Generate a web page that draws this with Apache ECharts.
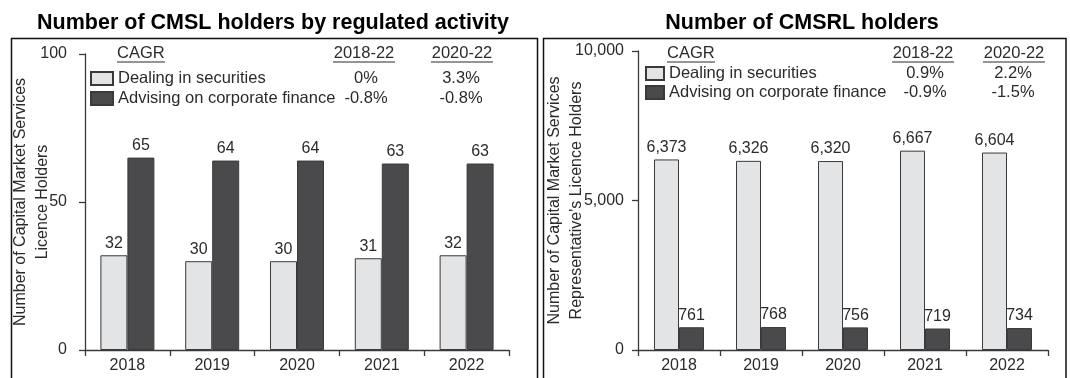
<!DOCTYPE html>
<html>
<head>
<meta charset="utf-8">
<script src="https://cdn.jsdelivr.net/npm/echarts@6/dist/echarts.min.js"></script>
<style>
  html, body { margin: 0; padding: 0; background: #fff; }
  #chart { width: 1070px; height: 378px; }
</style>
</head>
<body>
<div id="chart"></div>
<script>
// Years shown on both panels
const years = ['2018', '2019', '2020', '2021', '2022'];
const seriesNames = ['Dealing in securities', 'Advising on corporate finance'];

// CMSL holders by regulated activity
const cmslDealing = [32, 30, 30, 31, 32];
const cmslAdvising = [65, 64, 64, 63, 63];

// CMSRL holders
const cmsrlDealing = [6373, 6326, 6320, 6667, 6604];
const cmsrlAdvising = [761, 768, 756, 719, 734];

// CAGR table
const cagrHeader = 'CAGR';
const cagrPeriods = ['2018-22', '2020-22'];
const cmslCagr = [['0%', '3.3%'], ['-0.8%', '-0.8%']];
const cmsrlCagr = [['0.9%', '2.2%'], ['-0.9%', '-1.5%']];

// Axis ranges / tick steps
const cmslMax = 100, cmslStep = 50;
const cmsrlMax = 10000, cmsrlStep = 5000;

const FONT = "'Liberation Sans', Arial, sans-serif";
const TXT = '#2b2b2b';
const LIGHT = '#e3e4e6';
const DARK = '#4a4a4c';
const EDGE = '#3a3a3a';
const FS = 16;      // axis + bar labels
const FS_T = 16.5;  // legend + CAGR table

const fmt = v => Number(v).toLocaleString('en-US');

function axisX(gridIndex) {
  return {
    type: 'category', gridIndex, data: years,
    axisLine: { lineStyle: { color: EDGE, width: 1.3 } },
    axisTick: { show: true, length: 6, lineStyle: { color: EDGE, width: 1.3 } },
    axisLabel: { color: TXT, fontSize: FS, fontFamily: FONT, margin: 8 }
  };
}
function axisY(gridIndex, max, step, name, gap, labelMargin) {
  return {
    type: 'value', gridIndex, min: 0, max, interval: step,
    name, nameLocation: 'middle', nameGap: gap, nameMoveOverlap: false,
    nameTextStyle: { color: TXT, fontSize: FS, fontFamily: FONT, lineHeight: 22 },
    axisLine: { show: true, lineStyle: { color: EDGE, width: 1.3 } },
    axisTick: { show: true, length: 6, lineStyle: { color: EDGE, width: 1.3 } },
    axisLabel: { color: TXT, fontSize: FS, fontFamily: FONT, margin: labelMargin, formatter: v => fmt(v) },
    splitLine: { show: false }
  };
}
function bars(name, data, color, xi, width) {
  return {
    type: 'bar', name, data, xAxisIndex: xi, yAxisIndex: xi,
    barWidth: width, barGap: '0%',
    itemStyle: { color, borderColor: EDGE, borderWidth: 1 },
    label: { show: true, position: 'top', distance: 4, color: TXT, fontSize: FS, fontFamily: FONT,
             formatter: p => fmt(p.value) },
    emphasis: { disabled: true }
  };
}

// CAGR table: header row with underlines, then one value row per series
function cagrTable(xHeader, headCenters, valCenters, rowYs, headerY, values) {
  const els = [];
  const st = { fill: TXT, fontSize: FS_T, fontFamily: FONT };
  els.push({ type: 'text', x: xHeader, y: headerY,
             style: Object.assign({ text: cagrHeader, align: 'left', verticalAlign: 'middle' }, st) });
  els.push({ type: 'line', shape: { x1: xHeader, y1: headerY + 9, x2: xHeader + 48, y2: headerY + 9 },
             style: { stroke: TXT, lineWidth: 1 } });
  cagrPeriods.forEach((p, i) => {
    els.push({ type: 'text', x: headCenters[i], y: headerY,
               style: Object.assign({ text: p, align: 'center', verticalAlign: 'middle' }, st) });
    els.push({ type: 'line', shape: { x1: headCenters[i] - 31, y1: headerY + 9, x2: headCenters[i] + 31, y2: headerY + 9 },
               style: { stroke: TXT, lineWidth: 1 } });
  });
  values.forEach((row, r) => {
    row.forEach((v, c) => {
      els.push({ type: 'text', x: valCenters[c], y: rowYs[r],
                 style: Object.assign({ text: v, align: 'center', verticalAlign: 'middle' }, st) });
    });
  });
  return els;
}

const chart = echarts.init(document.getElementById('chart'), null, { renderer: 'canvas' });

const legendText = { color: TXT, fontSize: FS_T, fontFamily: FONT, lineHeight: 19 };

chart.setOption({
  animation: false,
  backgroundColor: '#fff',
  textStyle: { fontFamily: FONT },
  title: [
    { text: 'Number of CMSL holders by regulated activity', left: 268, top: 7, textAlign: 'center',
      textStyle: { fontSize: 21.5, fontWeight: 'bold', color: '#000', fontFamily: FONT } },
    { text: 'Number of CMSRL holders', left: 797, top: 7, textAlign: 'center',
      textStyle: { fontSize: 21.5, fontWeight: 'bold', color: '#000', fontFamily: FONT } }
  ],
  legend: [
    { orient: 'vertical', left: 90, top: 69, padding: 0, itemWidth: 22, itemHeight: 13, itemGap: 1,
      icon: 'rect', data: seriesNames, selectedMode: false, textStyle: legendText },
    { orient: 'vertical', left: 645, top: 64, padding: 0, itemWidth: 18, itemHeight: 13, itemGap: 0,
      icon: 'rect', data: seriesNames, selectedMode: false, textStyle: legendText }
  ],
  grid: [
    { left: 85, top: 54, width: 424, bottom: 28, outerBoundsMode: 'none', containLabel: false },
    { left: 638, top: 51, width: 410, bottom: 28, outerBoundsMode: 'none', containLabel: false }
  ],
  xAxis: [axisX(0), axisX(1)],
  yAxis: [
    axisY(0, cmslMax, cmslStep, 'Number of Capital Market Services\nLicence Holders', 31, 18),
    axisY(1, cmsrlMax, cmsrlStep, "Number of Capital Market Services\nRepresentative's Licence Holders", 50, 14)
  ],
  series: [
    bars(seriesNames[0], cmslDealing, LIGHT, 0, 27),
    bars(seriesNames[1], cmslAdvising, DARK, 0, 27),
    bars(seriesNames[0], cmsrlDealing, LIGHT, 1, 25),
    bars(seriesNames[1], cmsrlAdvising, DARK, 1, 25)
  ],
  graphic: [
    // panel frames
    { type: 'rect', shape: { x: 11.5, y: 38.5, width: 526, height: 360 },
      style: { fill: 'none', stroke: '#111', lineWidth: 1.5 }, silent: true },
    { type: 'rect', shape: { x: 543.5, y: 38.5, width: 522.5, height: 360 },
      style: { fill: 'none', stroke: '#111', lineWidth: 1.5 }, silent: true }
  ]
    .concat(cagrTable(117, [364, 462], [366, 461], [78, 98], 53, cmslCagr))
    .concat(cagrTable(667, [923, 1014], [925, 1013], [73, 92], 53, cmsrlCagr))
});
</script>
</body>
</html>
